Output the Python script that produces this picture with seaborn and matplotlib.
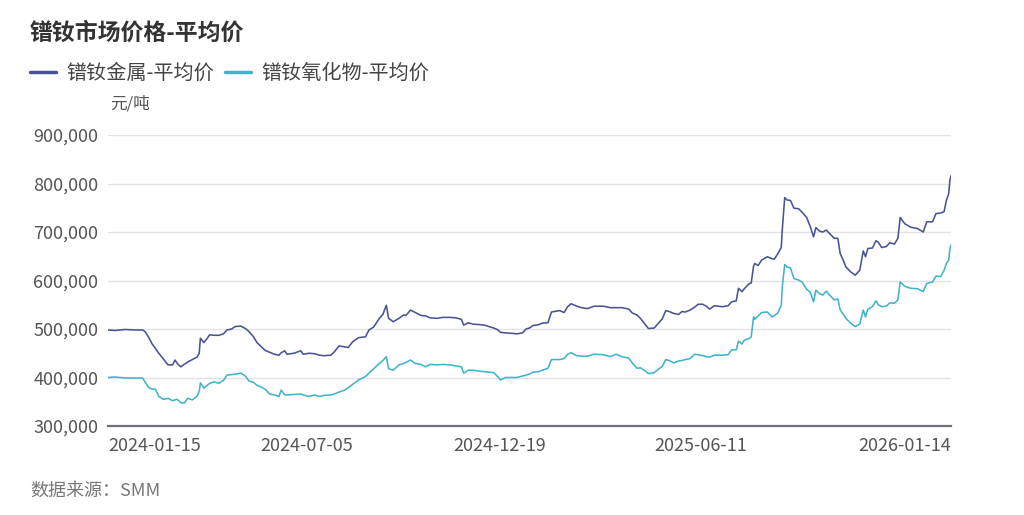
import pandas as pd
import numpy as np
import matplotlib
matplotlib.use("Agg")
import matplotlib.pyplot as plt
import matplotlib.ticker as mticker
import seaborn as sns

# ---------------- data ----------------
dates = [
    "2024-01-15", "2024-01-21", "2024-01-30", "2024-02-08", "2024-02-14", "2024-02-16", "2024-02-19",
    "2024-02-22", "2024-02-25", "2024-02-28", "2024-03-03", "2024-03-07", "2024-03-11", "2024-03-13",
    "2024-03-15", "2024-03-18", "2024-03-21", "2024-03-24", "2024-03-28", "2024-04-01", "2024-04-03",
    "2024-04-04", "2024-04-07", "2024-04-10", "2024-04-12", "2024-04-16", "2024-04-20", "2024-04-24",
    "2024-04-27", "2024-05-01", "2024-05-04", "2024-05-09", "2024-05-13", "2024-05-16", "2024-05-20",
    "2024-05-23", "2024-05-27", "2024-05-30", "2024-06-03", "2024-06-07", "2024-06-11", "2024-06-13",
    "2024-06-16", "2024-06-18", "2024-06-24", "2024-06-30", "2024-07-02",
    "2024-07-07", "2024-07-12", "2024-07-16", "2024-07-20", "2024-07-26", "2024-07-29", "2024-08-02",
    "2024-08-07", "2024-08-10", "2024-08-14", "2024-08-19", "2024-08-25", "2024-08-28", "2024-09-01",
    "2024-09-06", "2024-09-09", "2024-09-12", "2024-09-14", "2024-09-18", "2024-09-23", "2024-09-27",
    "2024-09-29", "2024-10-03", "2024-10-07", "2024-10-12", "2024-10-16", "2024-10-20", "2024-10-26",
    "2024-10-31", "2024-11-06", "2024-11-11", "2024-11-16", "2024-11-18", "2024-11-22", "2024-11-26",
    "2024-12-02", "2024-12-06", "2024-12-10", "2024-12-14", "2024-12-17",
    "2024-12-20", "2024-12-24", "2024-12-30", "2025-01-03", "2025-01-08", "2025-01-11", "2025-01-14",
    "2025-01-17", "2025-01-22", "2025-01-25", "2025-01-30", "2025-02-02", "2025-02-09", "2025-02-13",
    "2025-02-16", "2025-02-19", "2025-02-24", "2025-02-28", "2025-03-05", "2025-03-11", "2025-03-19",
    "2025-03-25", "2025-03-30", "2025-04-04", "2025-04-10", "2025-04-13", "2025-04-17", "2025-04-20",
    "2025-04-24", "2025-04-27", "2025-05-02", "2025-05-05", "2025-05-09", "2025-05-12", "2025-05-15",
    "2025-05-19", "2025-05-23", "2025-05-26", "2025-05-29", "2025-06-02", "2025-06-06", "2025-06-09",
    "2025-06-13", "2025-06-16", "2025-06-19", "2025-06-23", "2025-06-30", "2025-07-05", "2025-07-08",
    "2025-07-12", "2025-07-14", "2025-07-17", "2025-07-19", "2025-07-23", "2025-07-25", "2025-07-27",
    "2025-07-28", "2025-07-31", "2025-08-03", "2025-08-08", "2025-08-12", "2025-08-14", "2025-08-17",
    "2025-08-20", "2025-08-21", "2025-08-23", "2025-08-25", "2025-08-28", "2025-08-31", "2025-09-04",
    "2025-09-07", "2025-09-11", "2025-09-14", "2025-09-17", "2025-09-19", "2025-09-22", "2025-09-25",
    "2025-09-28", "2025-10-02", "2025-10-05", "2025-10-08", "2025-10-10", "2025-10-13", "2025-10-15",
    "2025-10-19", "2025-10-23", "2025-10-27", "2025-10-30", "2025-11-01", "2025-11-03", "2025-11-07",
    "2025-11-10", "2025-11-12", "2025-11-15", "2025-11-19", "2025-11-22", "2025-11-26", "2025-11-29",
    "2025-12-01", "2025-12-05", "2025-12-10", "2025-12-16", "2025-12-21", "2025-12-24", "2025-12-29",
    "2026-01-01", "2026-01-05", "2026-01-08", "2026-01-10", "2026-01-12", "2026-01-13", "2026-01-14",
]

metal_price = [
    498000, 497000, 499000, 498000, 498000, 495000, 484000,
    470000, 460000, 450000, 438000, 426000, 426000, 436000,
    429000, 422000, 427000, 432000, 437000, 442000, 450000,
    481000, 472000, 481000, 488000, 487000, 487000, 490000,
    498000, 500000, 505000, 506000, 501000, 495000, 484000,
    472000, 463000, 456000, 452000, 448000, 446000, 451000,
    455000, 448000, 450000, 455000, 448000,
    450000, 449000, 446000, 445000, 446000, 453000, 465000,
    463000, 462000, 474000, 482000, 484000, 498000, 504000,
    522000, 530000, 549000, 522000, 515000, 522000, 529000,
    528000, 539000, 534000, 528000, 527000, 523000, 522000,
    524000, 524000, 523000, 520000, 508000, 513000, 510000,
    509000, 508000, 505000, 502000, 499000,
    493000, 492000, 491000, 490000, 492000, 500000, 502000,
    507000, 509000, 512000, 513000, 535000, 538000, 534000,
    546000, 552000, 547000, 544000, 542000, 547000, 547000,
    544000, 544000, 544000, 541000, 533000, 529000, 522000,
    510000, 501000, 502000, 510000, 521000, 538000, 536000,
    532000, 530000, 536000, 535000, 539000, 545000, 551000,
    551000, 547000, 541000, 548000, 546000, 548000, 556000,
    558000, 584000, 577000, 583000, 593000, 595000, 629000,
    635000, 631000, 642000, 649000, 645000, 644000, 655000,
    668000, 708000, 771000, 766000, 765000, 749000, 748000,
    741000, 730000, 712000, 690000, 709000, 702000, 700000,
    704000, 694000, 687000, 687000, 656000, 640000, 628000,
    618000, 611000, 621000, 661000, 649000, 666000, 667000,
    682000, 679000, 668000, 670000, 678000, 675000, 687000,
    730000, 717000, 710000, 707000, 700000, 721000, 721000,
    738000, 739000, 742000, 765000, 779000, 806000, 816000,
]

oxide_price = [
    400000, 401000, 399000, 399000, 399000, 391000, 380000,
    376000, 376000, 361000, 355000, 357000, 352000, 354000,
    355000, 348000, 347000, 357000, 354000, 361000, 371000,
    389000, 378000, 384000, 388000, 391000, 388000, 394000,
    405000, 406000, 407000, 409000, 403000, 393000, 390000,
    384000, 380000, 376000, 366000, 364000, 361000, 374000,
    364000, 364000, 365000, 366000, 364000,
    361000, 364000, 361000, 363000, 364000, 366000, 370000,
    374000, 379000, 386000, 395000, 402000, 409000, 418000,
    429000, 435000, 443000, 418000, 415000, 426000, 429000,
    431000, 436000, 429000, 427000, 422000, 427000, 426000,
    427000, 426000, 424000, 422000, 409000, 415000, 415000,
    413000, 412000, 411000, 410000, 403000,
    395000, 400000, 400000, 400000, 403000, 405000, 407000,
    411000, 412000, 415000, 419000, 437000, 437000, 439000,
    448000, 451000, 445000, 444000, 444000, 448000, 447000,
    443000, 448000, 443000, 440000, 430000, 419000, 420000,
    414000, 408000, 410000, 416000, 423000, 437000, 435000,
    430000, 434000, 435000, 437000, 439000, 448000, 447000,
    445000, 443000, 442000, 446000, 446000, 447000, 457000,
    457000, 475000, 469000, 477000, 480000, 484000, 525000,
    520000, 527000, 534000, 535000, 525000, 528000, 533000,
    549000, 590000, 633000, 628000, 626000, 604000, 601000,
    597000, 582000, 576000, 556000, 580000, 573000, 570000,
    578000, 567000, 560000, 562000, 540000, 529000, 522000,
    512000, 505000, 510000, 539000, 525000, 541000, 546000,
    558000, 550000, 546000, 547000, 554000, 553000, 560000,
    597000, 588000, 584000, 583000, 577000, 594000, 597000,
    609000, 608000, 621000, 635000, 642000, 664000, 673000,
]

series_names = ["镨钕金属-平均价", "镨钕氧化物-平均价"]
x_tick_labels = ["2024-01-15", "2024-07-05", "2024-12-19", "2025-06-11", "2026-01-14"]
y_ticks = [300000, 400000, 500000, 600000, 700000, 800000, 900000]

# ---------------- figure ----------------
sns.set_theme(style="white")
plt.rcParams["font.family"] = ["Noto Sans CJK SC", "DejaVu Sans"]

df = pd.concat([
    pd.DataFrame({"date": pd.to_datetime(dates), "price": metal_price, "series": series_names[0]}),
    pd.DataFrame({"date": pd.to_datetime(dates), "price": oxide_price, "series": series_names[1]}),
], ignore_index=True)

colors = {series_names[0]: "#4a5394", series_names[1]: "#42b4c9"}

fig = plt.figure(figsize=(10.24, 5.15), dpi=100)
ax = fig.add_axes([108 / 1024, 1 - 426 / 515, (951 - 108) / 1024, (426 - 135) / 515])

sns.lineplot(data=df, x="date", y="price", hue="series", palette=colors,
             linewidth=1.15, ax=ax, legend=True)

ax.set_ylim(300000, 900000)
ax.set_xlim(pd.Timestamp(dates[0]), pd.Timestamp(dates[-1]))
ax.set_yticks(y_ticks)
ax.yaxis.set_major_formatter(mticker.FuncFormatter(lambda v, p: f"{int(v):,}"))
ax.set_xticks(pd.to_datetime(x_tick_labels))
ax.set_xticklabels(x_tick_labels)
ax.set_xlabel("")
ax.set_ylabel("")

ax.grid(axis="y", color="#e3e3e6", linewidth=1.0)
ax.grid(axis="x", visible=False)
for s in ["left", "right", "top"]:
    ax.spines[s].set_visible(False)
ax.spines["bottom"].set_color("#6e7079")
ax.spines["bottom"].set_linewidth(1.6)
ax.tick_params(axis="both", length=0, labelsize=13, labelcolor="#555555")
ax.tick_params(axis="y", pad=7)
ax.tick_params(axis="x", pad=8)
xl = ax.get_xticklabels()
xl[0].set_horizontalalignment("left")
xl[-1].set_horizontalalignment("right")

# legend
handles, labels = ax.get_legend_handles_labels()
ax.get_legend().remove()
leg = fig.legend(handles, labels, loc="upper left", bbox_to_anchor=(30 / 1024, 1 - 63 / 515),
                 ncol=2, frameon=False, fontsize=14.5, handlelength=1.3, handletextpad=0.5,
                 columnspacing=0.55, borderpad=0, borderaxespad=0)
for t in leg.get_texts():
    t.set_color("#444444")
for h in leg.legend_handles:
    h.set_linewidth(2.5)

fig.text(30 / 1024, 1 - 33 / 515, "镨钕市场价格-平均价", fontsize=16.5, fontweight="bold",
         color="#333333", va="center", ha="left")
fig.text(110 / 1024, 1 - 104 / 515, "元/吨", fontsize=12, color="#555555", va="center", ha="left")
fig.text(30 / 1024, 1 - 491 / 515, "数据来源：SMM", fontsize=13, color="#777777",
         style="italic", va="center", ha="left")

fig.savefig("out.png", dpi=100)
